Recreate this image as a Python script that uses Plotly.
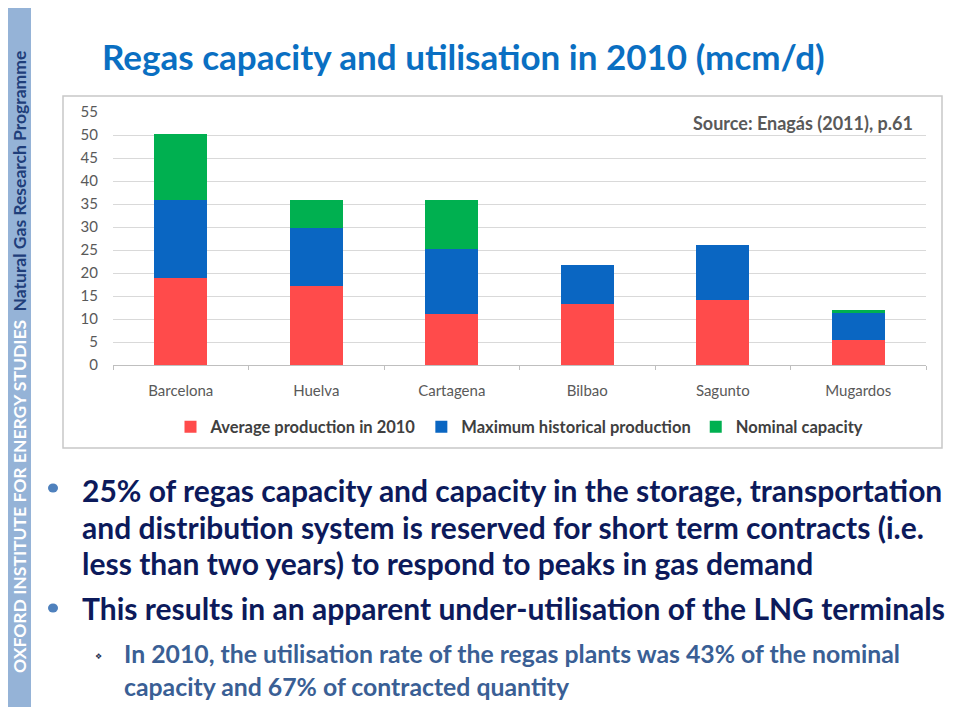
import plotly.graph_objects as go

# ---- data (mcm/d), stacked increments ----
terminals = ["Barcelona", "Huelva", "Cartagena", "Bilbao", "Sagunto", "Mugardos"]
avg_production_2010 = [19.0, 17.2, 11.0, 13.2, 14.1, 5.4]
max_historical_extra = [16.8, 12.5, 14.2, 8.5, 12.0, 5.8]
nominal_capacity_extra = [14.5, 6.1, 10.6, 0.0, 0.0, 0.7]
series_names = ["Average production in 2010", "Maximum historical production", "Nominal capacity"]
y_ticks = list(range(0, 56, 5))

title_text = "Regas capacity and utilisation in 2010 (mcm/d)"
source_text = "Source: Enagás (2011), p.61"
bullet_lines = [
    "25% of regas capacity and capacity in the storage, transportation",
    "and distribution system is reserved for short term contracts (i.e.",
    "less than two years) to respond to peaks in gas demand",
]
bullet2 = "This results in an apparent under-utilisation of the LNG terminals"
sub_lines = [
    "In 2010, the utilisation rate of the regas plants was 43% of the nominal",
    "capacity and 67% of contracted quantity",
]

# ---- layout geometry (reference pixels; page body has an 8px margin) ----
O = 8
W, H = 956 - 2 * O, 715 - 2 * O
PL, PR, PT, PB = 113, 926, 112, 365   # plot area in reference pixels


def px(x):
    return (x - PL) / (PR - PL)


def py(y):
    return (PB - y) / (PB - PT)


colors = ["#FF4B4B", "#0A66C2", "#00B050"]
FONT = "Lato"

fig = go.Figure()
for name, vals, col in zip(series_names, [avg_production_2010, max_historical_extra, nominal_capacity_extra], colors):
    fig.add_trace(go.Bar(x=terminals, y=vals, name=name, marker=dict(color=col, line=dict(width=0))))

fig.update_layout(
    width=W, height=H,
    barmode="stack", bargap=0.61,
    margin=dict(l=PL - O, r=W - (PR - O), t=PT - O, b=H - (PB - O), pad=0),
    paper_bgcolor="white", plot_bgcolor="white",
    font=dict(family=FONT, color="#595959"),
    showlegend=True,
    legend=dict(orientation="h", x=0.5, xanchor="center", y=py(427), yanchor="middle",
                font=dict(size=16.5, color="#404040", family=FONT, weight="bold"), itemwidth=30,
                traceorder="normal", bgcolor="rgba(0,0,0,0)"),
    xaxis=dict(showgrid=False, showline=True, linecolor="#BFBFBF", ticks="outside",
               tickson="boundaries", ticklen=4, tickcolor="#BFBFBF",
               tickfont=dict(size=15, color="#595959"), ticklabelstandoff=12),
    yaxis=dict(range=[0, 55], tickvals=y_ticks, showgrid=True, gridcolor="#D9D9D9",
               gridwidth=1, zeroline=False, showline=False,
               tickfont=dict(size=15, color="#595959"), ticklabelstandoff=14),
)

shapes = []
# chart box
shapes.append(dict(type="rect", xref="paper", yref="paper", x0=px(63), x1=px(942), y0=py(448), y1=py(96),
                   line=dict(color="#C8C8C8", width=1.5), fillcolor="rgba(0,0,0,0)", layer="below"))
# sidebar and black borders
shapes.append(dict(type="rect", xref="paper", yref="paper", x0=px(4), x1=px(31), y0=py(730), y1=py(-10),
                   line=dict(width=0), fillcolor="#95B3D7", layer="below"))
shapes.append(dict(type="rect", xref="paper", yref="paper", x0=px(-10), x1=px(4), y0=py(730), y1=py(-10),
                   line=dict(width=0), fillcolor="#111111", layer="below"))
shapes.append(dict(type="rect", xref="paper", yref="paper", x0=px(-10), x1=px(970), y0=py(3), y1=py(-10),
                   line=dict(width=0), fillcolor="#111111", layer="below"))
# bullets
for cy in (488, 608):
    shapes.append(dict(type="circle", xref="paper", yref="paper", x0=px(48), x1=px(58), y0=py(cy + 4.5), y1=py(cy - 4.5),
                       line=dict(width=0), fillcolor="#4F81BD"))
fig.update_layout(shapes=shapes)

ann = []
ann.append(dict(text=title_text, x=px(100), y=py(56), xanchor="left", yanchor="middle",
                font=dict(family=FONT, size=35, color="#0A6FC2", weight="bold")))
ann.append(dict(text=source_text, x=px(915), y=py(123), xanchor="right", yanchor="middle",
                font=dict(family=FONT, size=18, color="#595959", weight="bold")))
for txt, yy in zip(bullet_lines, (490, 527, 563)):
    ann.append(dict(text=txt, x=px(80), y=py(yy), xanchor="left", yanchor="middle",
                    font=dict(family=FONT, size=30, color="#0C1A5B", weight="bold")))
ann.append(dict(text=bullet2, x=px(80), y=py(608), xanchor="left", yanchor="middle",
                font=dict(family=FONT, size=30, color="#0C1A5B", weight="bold")))
ann.append(dict(text="❖", x=px(98), y=py(656), xanchor="center", yanchor="middle",
                font=dict(family="DejaVu Sans", size=8, color="#1F2F4F")))
for txt, yy in zip(sub_lines, (653, 686)):
    ann.append(dict(text=txt, x=px(122), y=py(yy), xanchor="left", yanchor="middle",
                    font=dict(family=FONT, size=24.8, color="#3A5F95", weight="bold")))
side = ("<span style='color:white'>OXFORD INSTITUTE FOR ENERGY STUDIES</span>"
        "  <span style='color:#1F3E7A'>Natural Gas Research Programme</span>")
ann.append(dict(text=side, x=px(19), y=py(362), xanchor="center", yanchor="middle", textangle=-90,
                font=dict(family=FONT, size=17.5, weight="bold")))
for a in ann:
    a.update(xref="paper", yref="paper", showarrow=False)
fig.update_layout(annotations=ann)

fig.write_html("out.html")
